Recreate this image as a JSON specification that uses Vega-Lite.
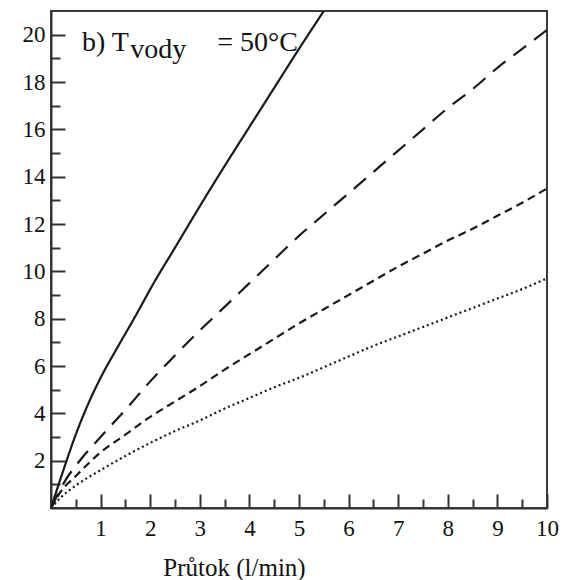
{
  "$schema": "https://vega.github.io/schema/vega-lite/v6.json",
  "width": 496,
  "height": 497,
  "autosize": {"type": "none"},
  "padding": {"left": 51, "top": 11, "right": 21, "bottom": 72},
  "background": "white",
  "config": {"view": {"stroke": "#3a3a3a", "strokeWidth": 2}, "font": "Liberation Serif"},
  "datasets": {
    "curves": [
      {"series": "a", "x": 0, "y": 0}, {"series": "a", "x": 0.25, "y": 1.6}, {"series": "a", "x": 0.49, "y": 3.05}, {"series": "a", "x": 0.75, "y": 4.4}, {"series": "a", "x": 1.0, "y": 5.5}, {"series": "a", "x": 1.33, "y": 6.75}, {"series": "a", "x": 1.7, "y": 8.1}, {"series": "a", "x": 2.07, "y": 9.5}, {"series": "a", "x": 2.5, "y": 11.0}, {"series": "a", "x": 3.0, "y": 12.75}, {"series": "a", "x": 3.5, "y": 14.45}, {"series": "a", "x": 4.0, "y": 16.1}, {"series": "a", "x": 4.5, "y": 17.75}, {"series": "a", "x": 5.0, "y": 19.4}, {"series": "a", "x": 5.5, "y": 21.0},
      {"series": "b", "x": 0, "y": 0}, {"series": "b", "x": 0.3, "y": 1.2}, {"series": "b", "x": 0.6, "y": 2.05}, {"series": "b", "x": 1, "y": 3.0}, {"series": "b", "x": 1.5, "y": 4.15}, {"series": "b", "x": 2, "y": 5.35}, {"series": "b", "x": 2.5, "y": 6.45}, {"series": "b", "x": 3, "y": 7.5}, {"series": "b", "x": 3.5, "y": 8.5}, {"series": "b", "x": 4, "y": 9.5}, {"series": "b", "x": 4.5, "y": 10.5}, {"series": "b", "x": 5, "y": 11.5}, {"series": "b", "x": 5.5, "y": 12.4}, {"series": "b", "x": 6, "y": 13.3}, {"series": "b", "x": 6.5, "y": 14.2}, {"series": "b", "x": 7, "y": 15.1}, {"series": "b", "x": 7.5, "y": 16.0}, {"series": "b", "x": 8, "y": 16.9}, {"series": "b", "x": 8.5, "y": 17.7}, {"series": "b", "x": 9, "y": 18.6}, {"series": "b", "x": 9.5, "y": 19.4}, {"series": "b", "x": 10, "y": 20.2},
      {"series": "c", "x": 0, "y": 0}, {"series": "c", "x": 0.2, "y": 0.7}, {"series": "c", "x": 0.5, "y": 1.35}, {"series": "c", "x": 1, "y": 2.35}, {"series": "c", "x": 1.5, "y": 3.1}, {"series": "c", "x": 2, "y": 3.85}, {"series": "c", "x": 2.5, "y": 4.5}, {"series": "c", "x": 3, "y": 5.15}, {"series": "c", "x": 3.5, "y": 5.85}, {"series": "c", "x": 4, "y": 6.5}, {"series": "c", "x": 4.5, "y": 7.15}, {"series": "c", "x": 5, "y": 7.8}, {"series": "c", "x": 5.5, "y": 8.4}, {"series": "c", "x": 6, "y": 9.0}, {"series": "c", "x": 6.5, "y": 9.6}, {"series": "c", "x": 7, "y": 10.2}, {"series": "c", "x": 7.5, "y": 10.75}, {"series": "c", "x": 8, "y": 11.3}, {"series": "c", "x": 8.5, "y": 11.8}, {"series": "c", "x": 9, "y": 12.35}, {"series": "c", "x": 9.5, "y": 12.9}, {"series": "c", "x": 10, "y": 13.5},
      {"series": "d", "x": 0, "y": 0}, {"series": "d", "x": 0.2, "y": 0.45}, {"series": "d", "x": 0.5, "y": 0.95}, {"series": "d", "x": 1, "y": 1.6}, {"series": "d", "x": 1.5, "y": 2.2}, {"series": "d", "x": 2, "y": 2.75}, {"series": "d", "x": 2.5, "y": 3.25}, {"series": "d", "x": 3, "y": 3.7}, {"series": "d", "x": 3.5, "y": 4.2}, {"series": "d", "x": 4, "y": 4.65}, {"series": "d", "x": 4.5, "y": 5.1}, {"series": "d", "x": 5, "y": 5.5}, {"series": "d", "x": 5.5, "y": 5.95}, {"series": "d", "x": 6, "y": 6.4}, {"series": "d", "x": 6.5, "y": 6.85}, {"series": "d", "x": 7, "y": 7.25}, {"series": "d", "x": 7.5, "y": 7.65}, {"series": "d", "x": 8, "y": 8.05}, {"series": "d", "x": 8.5, "y": 8.45}, {"series": "d", "x": 9, "y": 8.85}, {"series": "d", "x": 9.5, "y": 9.25}, {"series": "d", "x": 10, "y": 9.7}
    ],
    "label": [
      {"label": "b) T", "x": 0.625, "y": 19.31},
      {"label": "vody", "x": 1.6, "y": 19.02},
      {"label": "= 50°C", "x": 3.35, "y": 19.31}
    ]
  },
  "layer": [
    {
      "data": {"name": "curves"},
      "mark": {"type": "line", "strokeWidth": 2.2, "color": "#1a1a1a", "clip": true, "interpolate": "monotone"},
      "encoding": {
        "x": {
          "field": "x", "type": "quantitative",
          "scale": {"domain": [0, 10], "nice": false, "zero": false},
          "axis": {
            "orient": "bottom",
            "values": [1, 2, 3, 4, 5, 6, 7, 8, 9, 10],
            "grid": false,
            "tickSize": -14, "tickWidth": 2, "tickColor": "#333",
            "domainColor": "#333", "domainWidth": 2,
            "labelFont": "Liberation Serif", "labelFontSize": 23, "labelColor": "#111",
            "labelBaseline": "alphabetic", "labelPadding": 41, "labelFlush": false, "labelOverlap": false,
            "title": "Průtok (l/min)",
            "titleFont": "Liberation Serif", "titleFontSize": 25, "titleFontWeight": "normal", "titleColor": "#111",
            "titleX": 183, "titleY": 67, "titleBaseline": "alphabetic", "titleAlign": "center", "titleAnchor": null
          }
        },
        "y": {
          "field": "y", "type": "quantitative",
          "scale": {"domain": [0, 21], "nice": false, "zero": false},
          "axis": {
            "orient": "left",
            "values": [2, 4, 6, 8, 10, 12, 14, 16, 18, 20],
            "grid": false,
            "tickSize": -14, "tickWidth": 2, "tickColor": "#333",
            "domainColor": "#333", "domainWidth": 2,
            "labelFont": "Liberation Serif", "labelFontSize": 23, "labelColor": "#111",
            "labelBaseline": "middle", "labelPadding": 20, "labelFlush": false, "labelOverlap": false,
            "title": null
          }
        },
        "strokeDash": {
          "field": "series", "type": "nominal",
          "scale": {"domain": ["a", "b", "c", "d"], "range": [[1, 0], [16, 10], [8, 5], [2, 3]]},
          "legend": null
        }
      }
    },
    {
      "data": {"name": "label"},
      "mark": {"type": "text", "align": "left", "baseline": "alphabetic", "fontSize": 28, "font": "Liberation Serif", "color": "#111"},
      "encoding": {
        "x": {
          "field": "x", "type": "quantitative",
          "axis": {"orient": "bottom", "values": [0.5, 1.5, 2.5, 3.5, 4.5, 5.5, 6.5, 7.5, 8.5, 9.5], "grid": false, "labels": false, "domain": false, "title": null, "tickSize": -9, "tickWidth": 2, "tickColor": "#333"}
        },
        "y": {
          "field": "y", "type": "quantitative",
          "axis": {"orient": "left", "values": [1, 3, 5, 7, 9, 11, 13, 15, 17, 19], "grid": false, "labels": false, "domain": false, "title": null, "tickSize": -9, "tickWidth": 2, "tickColor": "#333"}
        },
        "text": {"field": "label", "type": "nominal"}
      }
    }
  ],
  "resolve": {"axis": {"x": "independent", "y": "independent"}}
}
